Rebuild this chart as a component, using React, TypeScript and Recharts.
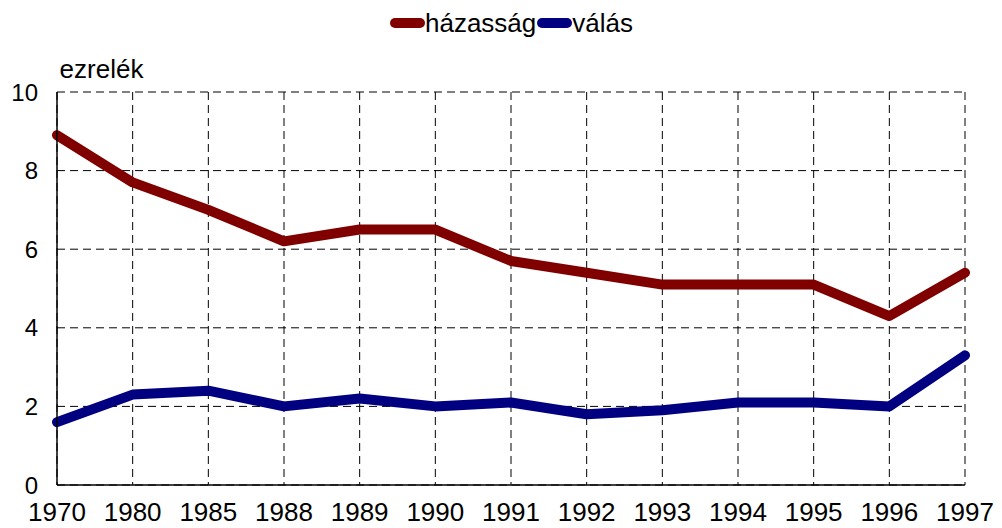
import { CartesianGrid, Legend, Line, LineChart, XAxis, YAxis } from 'recharts';

const years = ['1970', '1980', '1985', '1988', '1989', '1990', '1991', '1992', '1993', '1994', '1995', '1996', '1997'];
const hazassag = [8.9, 7.7, 7.0, 6.2, 6.5, 6.5, 5.7, 5.4, 5.1, 5.1, 5.1, 4.3, 5.4];
const valas = [1.6, 2.3, 2.4, 2.0, 2.2, 2.0, 2.1, 1.8, 1.9, 2.1, 2.1, 2.0, 3.3];
const yTicks = [0, 2, 4, 6, 8, 10];

const series = [
  { key: 'hazassag', name: 'házasság', color: '#800000' },
  { key: 'valas', name: 'válás', color: '#000080' },
];

const data = years.map((ev, i) => ({ ev, hazassag: hazassag[i], valas: valas[i] }));

function Jelmagyarazat() {
  return (
    <div style={{ display: 'flex', justifyContent: 'center', alignItems: 'center', paddingLeft: 20 }}>
      {series.map((s) => (
        <div key={s.key} style={{ display: 'flex', alignItems: 'center' }}>
          <svg width={37} height={14} style={{ marginRight: 1 }}>
            <line x1={6} y1={7} x2={31} y2={7} stroke={s.color} strokeWidth={10} strokeLinecap="round" />
          </svg>
          <span style={{ fontSize: 26, color: '#000', lineHeight: '30px', marginLeft: -2 }}>{s.name}</span>
        </div>
      ))}
    </div>
  );
}

export default function App() {
  return (
    <div style={{ position: 'absolute', left: 0, top: 0, fontFamily: '"Liberation Sans", Arial, sans-serif' }}>
      <LineChart width={1002} height={528} data={data} margin={{ top: 92, right: 37, bottom: 0, left: 0 }}>
        <CartesianGrid stroke="#000" strokeDasharray="8 5" />
        <XAxis
          dataKey="ev"
          height={43}
          tickLine={false}
          tickMargin={12}
          axisLine={{ stroke: '#000', strokeWidth: 1.5 }}
          tick={{ fill: '#000', fontSize: 26 }}
          interval={0}
        />
        <XAxis dataKey="ev" xAxisId="felso" orientation="top" height={0} tick={false} tickLine={false} axisLine={{ stroke: '#000', strokeWidth: 1.5 }} />
        <YAxis
          domain={[0, 10]}
          ticks={yTicks}
          width={57}
          tickLine={false}
          tickMargin={13}
          axisLine={{ stroke: '#000', strokeWidth: 1.5 }}
          tick={{ fill: '#000', fontSize: 24 }}
          label={{ value: 'ezrelék', position: 'top', offset: 14, dx: 73, fontSize: 26, fill: '#000' }}
        />
        <YAxis yAxisId="jobb" orientation="right" domain={[0, 10]} width={0} tick={false} tickLine={false} axisLine={{ stroke: '#000', strokeWidth: 1.5 }} />
        <Legend verticalAlign="middle" content={() => <Jelmagyarazat />} wrapperStyle={{ top: 8, left: 0, width: 1002 }} />
        {series.map((s) => (
          <Line
            key={s.key}
            type="linear"
            dataKey={s.key}
            name={s.name}
            stroke={s.color}
            strokeWidth={10}
            strokeLinecap="round"
            strokeLinejoin="round"
            dot={false}
            activeDot={false}
            isAnimationActive={false}
          />
        ))}
      </LineChart>
    </div>
  );
}
